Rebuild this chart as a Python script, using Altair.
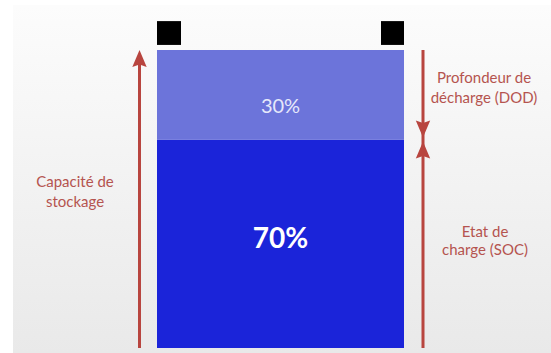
import altair as alt
import pandas as pd

# ---------------- data ----------------
segments = ["Etat de charge (SOC)", "Profondeur de décharge (DOD)"]
shares = [70, 30]                       # % of storage capacity
share_labels = ["70%", "30%"]
side_lines = ["Profondeur de", "décharge (DOD)", "Etat de", "charge (SOC)",
              "Capacité de", "stockage"]

# ---------------- layout / style ----------------
W, H = 551, 353
X_DOM = [0, 551]
Y_DOM = [-1.68, 116.78]                 # percent scale, 0 = battery bottom
BAT_X = (157, 404)
SEG_COLORS = {"Etat de charge (SOC)": "#1b24d9",
              "Profondeur de décharge (DOD)": "#6c74da"}
RED = "#b8453f"
TXT_RED = "#b5544f"
FONT = "Lato"

xs = alt.Scale(domain=X_DOM, range=[0, W])
ys = alt.Scale(domain=Y_DOM, range=[H, 0])

def X(f="x"):
    return alt.X(f"{f}:Q", scale=xs, axis=None)

def Y(f="y"):
    return alt.Y(f"{f}:Q", scale=ys, axis=None)

# background gradient
bg = alt.Chart(pd.DataFrame({"a": [0]})).mark_rect(
    color=alt.Gradient(
        gradient="linear",
        stops=[alt.GradientStop(color="#fcfcfc", offset=0),
               alt.GradientStop(color="#e9e9e9", offset=1)],
        x1=0, x2=0, y1=0, y2=1)
).encode(x=alt.value(13), x2=alt.value(W), y=alt.value(5), y2=alt.value(H))

# battery segments (stacked)
lo, rows = 0, []
for seg, v, lab in zip(segments, shares, share_labels):
    rows.append({"seg": seg, "x": BAT_X[0], "x2": BAT_X[1], "y": lo, "y2": lo + v,
                 "mid": lo + v / 2, "label": lab})
    lo += v
bat_df = pd.DataFrame(rows)

bars = alt.Chart(bat_df).mark_rect().encode(
    x=X(), x2="x2", y=Y(), y2="y2",
    color=alt.Color("seg:N", scale=alt.Scale(domain=list(SEG_COLORS),
                                             range=list(SEG_COLORS.values())),
                    legend=None))

# terminals
term_df = pd.DataFrame({"x": [157, 381], "x2": [181, 404],
                        "y": [101.7, 101.7], "y2": [109.7, 109.7]})
terms = alt.Chart(term_df).mark_rect(color="black").encode(
    x=X(), x2="x2", y=Y(), y2="y2")

# arrow shafts
shaft_df = pd.DataFrame({"x": [139.5, 423], "y": [0, 0], "y2": [96, 100]})
shafts = alt.Chart(shaft_df).mark_rule(color=RED, strokeWidth=3).encode(
    x=X(), y=Y(), y2="y2")

# arrow heads (tip at point position)
UP = "M0,0L-0.72,1.7L0,1.45L0.72,1.7Z"
UP_G = "M0,0.2L-0.72,1.9L0,1.65L0.72,1.9Z"
DOWN_G = "M0,-0.2L-0.72,-1.9L0,-1.65L0.72,-1.9Z"
head_df = pd.DataFrame({"x": [139.5, 423, 423],
                        "y": [100, shares[0], shares[0]],
                        "path": [UP, DOWN_G, UP_G]})
heads = alt.Chart(head_df).mark_point(filled=True, opacity=1, size=400,
                                      color=RED, strokeWidth=0).encode(
    x=X(), y=Y(), shape=alt.Shape("path:N", scale=None))

# percentage labels
p30 = alt.Chart(bat_df[bat_df.label == "30%"].assign(ty=81.0)).mark_text(
    font=FONT, fontSize=20, color="#e6e8fa", align="center", baseline="middle"
).encode(x=alt.X("xc:Q", scale=xs, axis=None), y=Y("ty"), text="label:N").transform_calculate(
    xc="(datum.x + datum.x2) / 2")
p70 = alt.Chart(bat_df[bat_df.label == "70%"].assign(ty=36.2)).mark_text(
    font=FONT, fontSize=28, fontWeight="bold", color="white", align="center",
    baseline="middle"
).encode(x=alt.X("xc:Q", scale=xs, axis=None), y=Y("ty"), text="label:N").transform_calculate(
    xc="(datum.x + datum.x2) / 2")

# side labels
side_df = pd.DataFrame({
    "text": side_lines,
    "x": [484, 484, 485, 485, 75, 75],
    "y": [90.6, 83.9, 38.9, 32.9, 55.7, 49.0],
})
sides = alt.Chart(side_df).mark_text(
    font=FONT, fontSize=15, color=TXT_RED, align="center", baseline="middle"
).encode(x=X(), y=Y(), text="text:N")

chart = alt.layer(bg, bars, terms, shafts, heads, p30, p70, sides).properties(
    width=W, height=H, padding=0, autosize=alt.AutoSizeParams(type="none"),
    background="white"
).configure_view(stroke=None)

chart.save("out.html", embed_options={"renderer": "svg", "actions": False})
